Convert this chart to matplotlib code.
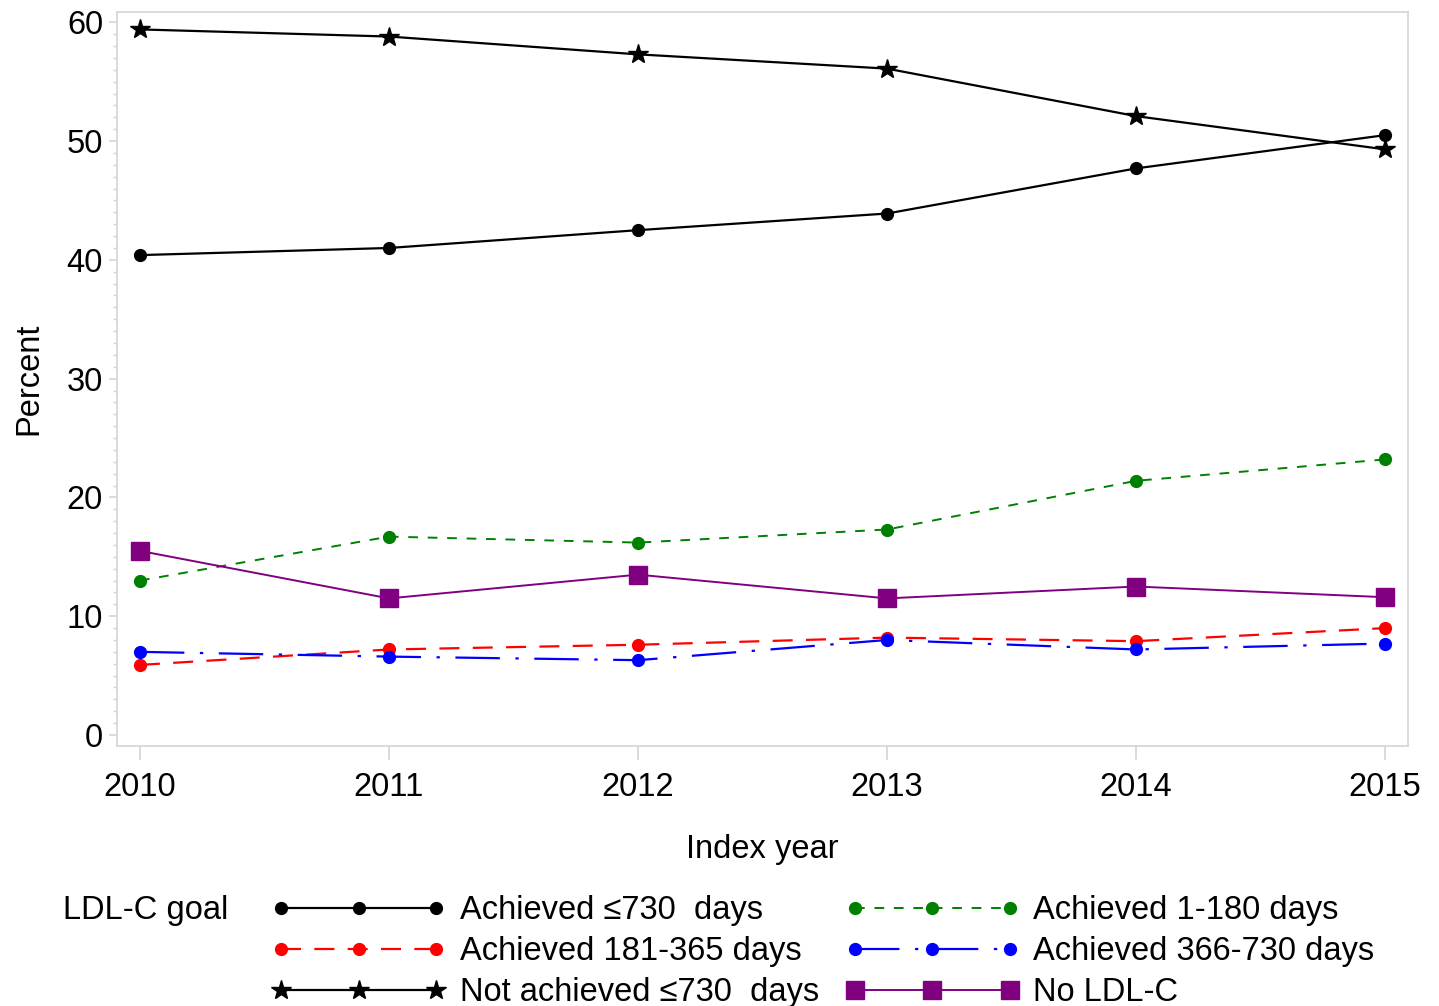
import matplotlib
matplotlib.use('Agg')
import matplotlib.pyplot as plt
from matplotlib.ticker import MultipleLocator

plt.rcParams['font.family'] = ['Liberation Sans', 'DejaVu Sans']

years = [2010, 2011, 2012, 2013, 2014, 2015]
achieved_730 = [40.4, 41.0, 42.5, 43.9, 47.7, 50.5]
achieved_1_180 = [13.0, 16.7, 16.2, 17.3, 21.4, 23.2]
achieved_181_365 = [5.9, 7.2, 7.6, 8.2, 7.9, 9.0]
achieved_366_730 = [7.0, 6.6, 6.3, 8.0, 7.2, 7.7]
not_achieved_730 = [59.4, 58.8, 57.3, 56.1, 52.1, 49.3]
no_ldlc = [15.5, 11.5, 13.5, 11.5, 12.5, 11.6]

labels = ['Achieved \u2264730  days', 'Achieved 181-365 days', 'Not achieved \u2264730  days',
          'Achieved 1-180 days', 'Achieved 366-730 days', 'No LDL-C']

grey = '#d4d4d4'
fs = 23.5

fig = plt.figure(figsize=(14.39, 10.06), dpi=100)
ax = fig.add_axes([0.0813, 0.2584, 0.8972, 0.7296])

h1, = ax.plot(years, achieved_730, color='black', lw=1.6, marker='o', ms=8.5)
h2, = ax.plot(years, achieved_181_365, color='#ff0000', lw=1.6, marker='o', ms=8.5,
              dashes=(9, 6))
h3, = ax.plot(years, not_achieved_730, color='black', lw=1.6, marker='*', ms=15)
h4, = ax.plot(years, achieved_1_180, color='#008000', lw=1.4, marker='o', ms=8.5,
              dashes=(5, 5))
h5, = ax.plot(years, achieved_366_730, color='#0000ff', lw=1.6, marker='o', ms=8.5,
              dashes=(20, 7, 1.5, 7))
h6, = ax.plot(years, no_ldlc, color='#800080', lw=1.4, marker='s', ms=12.5)

ax.set_xlim(2009.908, 2015.092)
ax.set_ylim(-0.93, 60.86)
ax.set_xticks(years)
ax.yaxis.set_major_locator(MultipleLocator(10))
ax.yaxis.set_minor_locator(MultipleLocator(1))

for s in ax.spines.values():
    s.set_color(grey)
    s.set_linewidth(1.2)

ax.tick_params(axis='x', which='major', length=10, width=1.2, color=grey,
               labelsize=fs, pad=9)
ax.tick_params(axis='y', which='major', length=6, width=1.2, color=grey,
               labelsize=fs, pad=4)
ax.tick_params(axis='y', which='minor', length=3, width=1, color=grey)

ax.set_xlabel('Index year', fontsize=fs, labelpad=22)
ax.set_ylabel('Percent', fontsize=fs, labelpad=16)

fig.text(0.044, 1 - 910 / 1006, 'LDL-C goal', fontsize=fs, va='center', ha='left')

fig.legend([h1, h2, h3, h4, h5, h6], labels, ncol=2, numpoints=3,
           loc='upper left', bbox_to_anchor=(0.1885, 1 - 895 / 1006),
           frameon=False, fontsize=fs, handlelength=5.35, handletextpad=0.42,
           columnspacing=0.8, labelspacing=0.31, borderpad=0, borderaxespad=0)

fig.savefig('out.png', dpi=100)
